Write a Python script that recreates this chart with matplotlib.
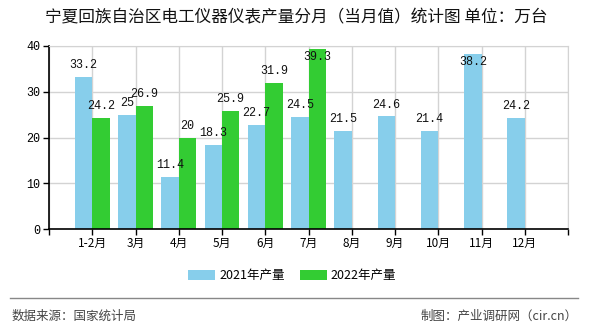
import matplotlib
matplotlib.use("Agg")
import matplotlib.pyplot as plt
from matplotlib.patches import Patch
from matplotlib.lines import Line2D

plt.rcParams['font.family'] = ['Noto Sans CJK SC', 'DejaVu Sans']

months = ["1-2月", "3月", "4月", "5月", "6月", "7月", "8月", "9月", "10月", "11月", "12月"]
prod_2021 = [33.2, 25, 11.4, 18.3, 22.7, 24.5, 21.5, 24.6, 21.4, 38.2, 24.2]
prod_2022 = [24.2, 26.9, 20, 25.9, 31.9, 39.3]
series_names = ["2021年产量", "2022年产量"]
yticks = [0, 10, 20, 30, 40]

c21 = "#87CEEB"
c22 = "#33CC33"
mono = ['Liberation Mono', 'DejaVu Sans Mono']

fig = plt.figure(figsize=(5.9, 3.3), dpi=100)
ax = fig.add_axes([49/590, 1-229/330, (568-49)/590, (229-46)/330])

w = 0.4
x21 = list(range(len(prod_2021)))
x22 = list(range(len(prod_2022)))
ax.bar([x - w/2 for x in x21], prod_2021, width=w, color=c21, zorder=2)
ax.bar([x + w/2 for x in x22], prod_2022, width=w, color=c22, zorder=2)

def put_label(x, v):
    y = v - 1.7 if v > 36 else v + 2.6
    ax.text(x, y, f"{v:g}", ha='center', va='center', fontsize=8.5,
            family=mono, color='#111111', zorder=3)

for x, v in zip(x21, prod_2021):
    put_label(x - w/2, v)
for x, v in zip(x22, prod_2022):
    put_label(x + w/2, v)

ax.set_xlim(-1, 11)
ax.set_ylim(0, 40)
ax.set_xticks(range(-1, 12))
ax.set_xticklabels([""] + months + [""], fontsize=8.5)
ax.set_yticks(yticks)
ax.set_yticklabels([str(t) for t in yticks], family=mono, fontsize=8.5)
ax.tick_params(axis='both', direction='out', length=4, width=1, color='black', pad=2)

ax.grid(True, color='#D3D3D3', linewidth=1, zorder=0)
ax.set_axisbelow(True)
for side in ('top', 'right'):
    ax.spines[side].set_color('#D3D3D3')
for side in ('left', 'bottom'):
    ax.spines[side].set_color('black')
    ax.spines[side].set_linewidth(1.2)

fig.text(296/590, 1-18/330, "宁夏回族自治区电工仪器仪表产量分月（当月值）统计图 单位：万台",
         ha='center', va='center', fontsize=12, fontweight='normal', color='#111111')

handles = [Patch(facecolor=c21), Patch(facecolor=c22)]
fig.legend(handles, series_names, loc='center', bbox_to_anchor=(292/590, 1-276/330),
           ncol=2, frameon=False, fontsize=9, handlelength=2.2, handleheight=0.8,
           columnspacing=1.2, handletextpad=0.3)

fig.add_artist(Line2D([10/590, 578/590], [1-298/330, 1-298/330],
                      color='#888888', linewidth=1, transform=fig.transFigure))
fig.text(12/590, 1-316/330, "数据来源：国家统计局", ha='left', va='center',
         fontsize=9, color='#444444')
fig.text(578/590, 1-316/330, "制图：产业调研网（cir.cn）", ha='right', va='center',
         fontsize=9, color='#444444')

fig.savefig("out.png", dpi=100)
